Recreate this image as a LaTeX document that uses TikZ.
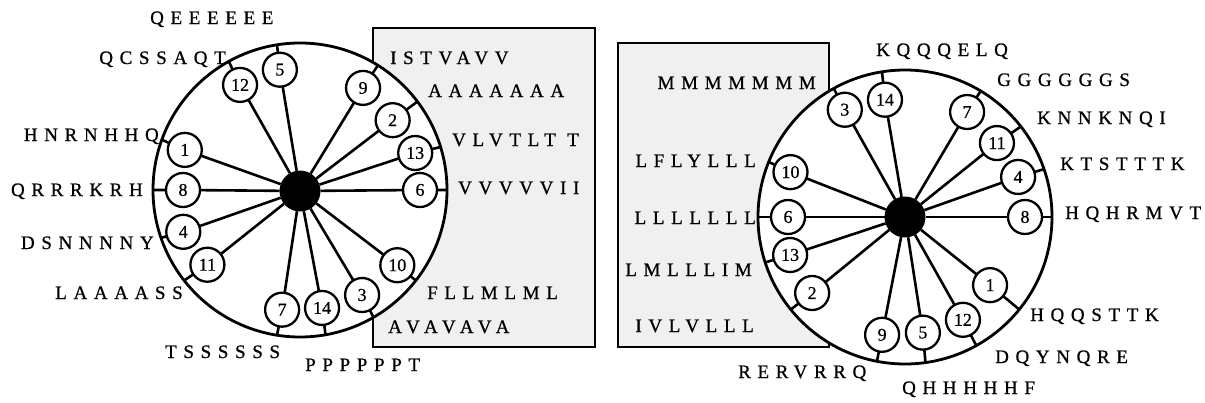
\documentclass[tikz,border=0pt]{standalone}
\usepackage{fontspec}
\setmainfont{Liberation Serif}
\newfontfamily\lbl[LetterSpace=35,FakeBold=0.8]{Liberation Serif}
\newfontfamily\dig[FakeBold=0.6]{Liberation Serif}
\usetikzlibrary{calc}
\begin{document}
\begin{tikzpicture}[x=1pt,y=-1pt,
  wheel/.style={circle,draw,line width=2.8pt,fill=white,minimum size=294pt,inner sep=0pt,outer sep=0pt},
  hub/.style={circle,fill=black,minimum size=41pt,inner sep=0pt,outer sep=0pt},
  res/.style={circle,draw,line width=2.3pt,fill=white,minimum size=34pt,inner sep=0pt,outer sep=0pt,font=\dig\fontsize{18}{18}\selectfont},
  spoke/.style={line width=2.6pt},
  seq/.style={font=\lbl\fontsize{19}{19}\selectfont,inner sep=0pt,anchor=base west},
  seqr/.style={seq,anchor=base east},
  panel/.style={draw,line width=1.6pt,fill=black!6}]
\useasboundingbox (0,0) rectangle (1205,402);
% panels
\draw[panel] (373,28) rectangle (595,347);
\draw[panel] (618,43) rectangle (829,347);
% left wheel
\node[wheel] (W1) at (300,190) {};
\node[hub] (H1) at (300,191) {};
\foreach \n/\a/\d in {12/119.7/121, 5/99.5/122, 9/58.3/120, 2/37/116, 13/17.8/121, 6/0/120, 10/322.3/123, 3/300.6/122, 14/280.6/120, 7/261.5/121, 11/218.9/119, 4/199.7/124, 8/180/117, 1/160.8/122}{
  \node[res] (L\n) at ($(300,190)+(\a:\d pt)$) {\n};
  \draw[spoke] (H1) -- (L\n) -- (W1.\a);
}
% right wheel
\node[wheel] (W2) at (905,217) {};
\node[hub] (H2) at (905,217) {};
\foreach \n/\a/\d in {3/119.3/123, 14/99.7/119, 7/59.4/122, 11/38.8/118, 4/19.5/120, 8/0/120, 1/321.3/109, 12/299.4/118, 5/278.8/117, 9/259/120, 2/219.3/120, 13/198.3/121, 6/180/117, 10/158.6/123}{
  \node[res] (R\n) at ($(905,217)+(\a:\d pt)$) {\n};
  \draw[spoke] (H2) -- (R\n) -- (W2.\a);
}
% left labels
\node[seq] (t1) at (150,24) {QEEEEEE};
\node[seqr] (t2) at (226,64) {QCSSAQT};
\node[seqr] (t3) at (159,141) {HNRNHHQ};
\node[seqr] (t4) at (143,196) {QRRRKRH};
\node[seqr] (t5) at (154,249) {DSNNNNY};
\node[seqr] (t6) at (183,299) {LAAAASS};
\node[seq] (t7) at (165,358) {TSSSSSS};
\node[seq] (t8) at (305,371) {PPPPPPT};
\node[seq] (t9) at (390,64) {ISTVAVV};
\node[seq] (t10) at (428,97) {AAAAAAA};
\node[seq] (t11) at (452,146) {VLVTLT T};
\node[seq] (t12) at (458,194) {VVVVVII};
\node[seq] (t13) at (427,299) {FLLMLML};
\node[seq] (t14) at (388,333) {AVAVAVA};
% right labels
\node[seqr] (u1) at (816,89) {MMMMMMM};
\node[seqr] (u2) at (756,167) {LFLYLLL};
\node[seqr] (u3) at (756,224) {LLLLLLL};
\node[seqr] (u4) at (752,276) {LMLLLIM};
\node[seqr] (u5) at (754,332) {IVLVLLL};
\node[seq] (u6) at (738,378) {RERVRRQ};
\node[seq] (u7) at (876,56) {KQQQELQ};
\node[seq] (u8) at (997,86) {GGGGGGS};
\node[seq] (u9) at (1037,124) {KNNKNQI};
\node[seq] (u10) at (1060,170) {KTSTTTK};
\node[seq] (u11) at (1065,219) {HQHRMVT};
\node[seq] (u12) at (1030,321) {HQQSTTK};
\node[seq] (u13) at (995,363) {DQYNQRE};
\node[seq] (u14) at (902,394) {QHHHHHF};
\end{tikzpicture}
\end{document}
